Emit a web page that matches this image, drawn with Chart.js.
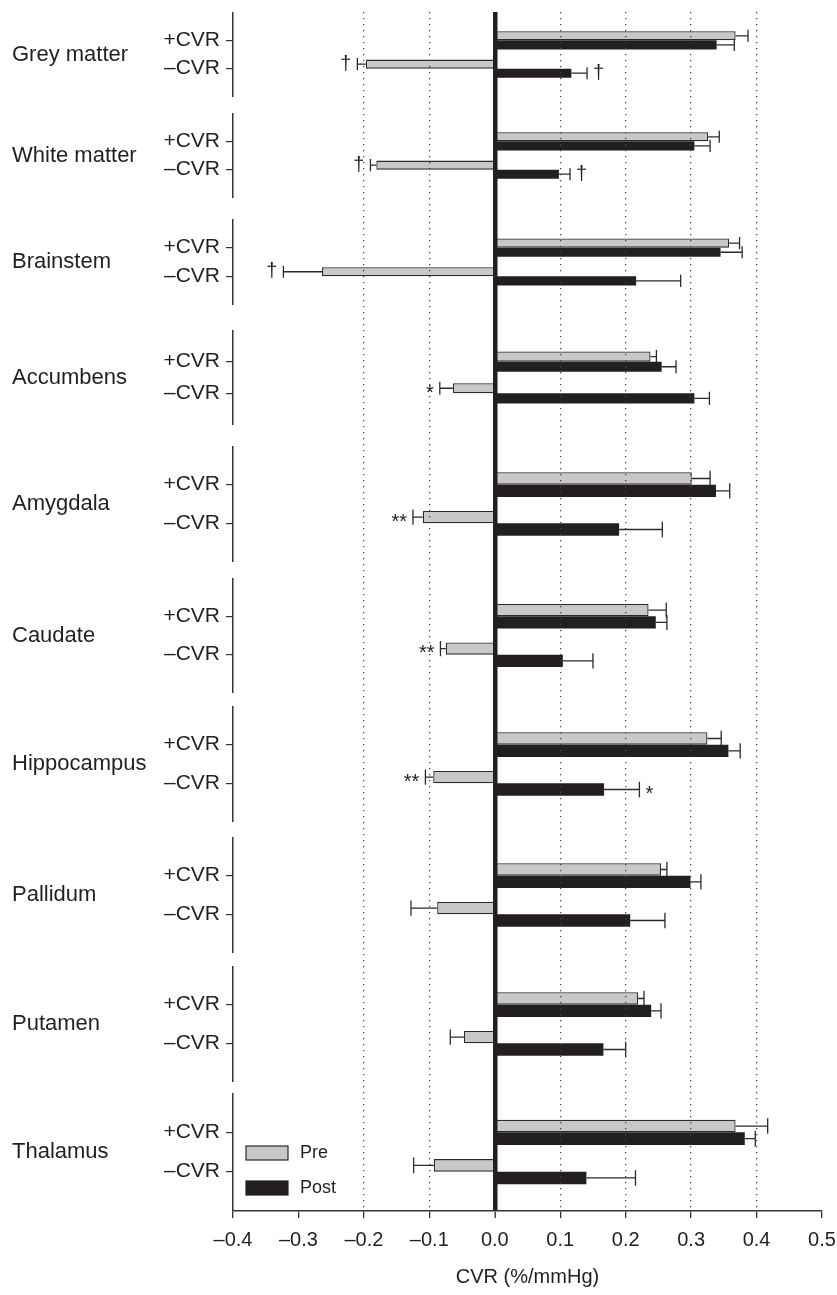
<!DOCTYPE html>
<html>
<head>
<meta charset="utf-8">
<script src="https://cdn.jsdelivr.net/npm/chart.js"></script>
<style>
    html, body { margin: 0; padding: 0; background: #fff; }
    #wrap { position: relative; width: 837px; height: 1295px; }
    #wrap canvas { position: absolute; left: 0; }
</style>
</head>
<body>
<div id="wrap"></div>
<script>
var regiones = ['Grey matter', 'White matter', 'Brainstem', 'Accumbens', 'Amygdala',
    'Caudate', 'Hippocampus', 'Pallidum', 'Putamen', 'Thalamus'];
var filas = ['+CVR', '\u2013CVR'];

// +CVR rows
var prePos = [0.368, 0.326, 0.358, 0.238, 0.301, 0.235, 0.325, 0.254, 0.219, 0.368];
var prePosErr = [0.019, 0.017, 0.016, 0.009, 0.028, 0.027, 0.021, 0.009, 0.009, 0.049];
var postPos = [0.339, 0.305, 0.345, 0.255, 0.338, 0.246, 0.357, 0.299, 0.239, 0.382];
var postPosErr = [0.027, 0.024, 0.033, 0.022, 0.021, 0.017, 0.018, 0.016, 0.015, 0.016];

// -CVR rows
var preNeg = [-0.197, -0.181, -0.264, -0.064, -0.110, -0.075, -0.094, -0.088, -0.047, -0.093];
var preNegErr = [0.013, 0.009, 0.059, 0.020, 0.015, 0.008, 0.012, 0.040, 0.021, 0.031];
var postNeg = [0.117, 0.098, 0.216, 0.305, 0.190, 0.104, 0.167, 0.207, 0.166, 0.140];
var postNegErr = [0.024, 0.017, 0.068, 0.023, 0.066, 0.046, 0.054, 0.053, 0.034, 0.075];

var preNegMarca = ['\u2020', '\u2020', '\u2020', '*', '**', '**', '**', '', '', ''];
var postNegMarca = ['\u2020', '\u2020', '', '', '', '', '*', '', '', ''];

var xMin = -0.4, xMax = 0.5, xPaso = 0.1;
var tituloX = 'CVR (%/mmHg)';

// layout: top and height of each region's axis segment
var cajas = [[12, 85], [113, 85], [219, 86], [330, 95], [446, 116],
    [578, 115], [706, 116], [837, 116], [966, 116], [1093, 118]];

var fuente = '"Liberation Sans", Arial, Helvetica, sans-serif';
var negro = '#231f20';
var gris = '#c8c8c8';

function crearCanvas(top, h, z) {
    var c = document.createElement('canvas');
    c.width = 837;
    c.height = h;
    c.style.top = top + 'px';
    c.style.zIndex = z;
    document.getElementById('wrap').appendChild(c);
    return c;
}

var barrasError = {
    id: 'barrasError',
    afterDatasetsDraw: function (chart) {
        var ctx = chart.ctx;
        var xs = chart.scales.x;
        chart.data.datasets.forEach(function (ds, d) {
            var meta = chart.getDatasetMeta(d);
            meta.data.forEach(function (bar, i) {
                var v = ds.data[i];
                if (v === null || v === undefined) return;
                var s = v < 0 ? -1 : 1;
                var xFin = xs.getPixelForValue(v + s * ds.errores[i]);
                var h = bar.height + 3;
                ctx.save();
                ctx.strokeStyle = '#2b2b2b';
                ctx.lineWidth = 1.3;
                ctx.beginPath();
                ctx.moveTo(bar.x, bar.y);
                ctx.lineTo(xFin, bar.y);
                ctx.moveTo(xFin, bar.y - h / 2);
                ctx.lineTo(xFin, bar.y + h / 2);
                ctx.stroke();
                var m = ds.marcas[i];
                if (m) {
                    ctx.fillStyle = negro;
                    ctx.font = '20px ' + fuente;
                    ctx.textBaseline = 'middle';
                    ctx.textAlign = s < 0 ? 'right' : 'left';
                    var dy = m.charAt(0) === '*' ? 5 : 0;
                    ctx.fillText(m, xFin + s * 6, bar.y + dy);
                }
                ctx.restore();
            });
        });
    }
};

function etiquetaRegion(nombre) {
    return {
        id: 'etiquetaRegion',
        afterDraw: function (chart) {
            var ctx = chart.ctx;
            var ys = chart.scales.y;
            var y = (ys.getPixelForValue(1) + ys.getPixelForValue(2)) / 2;
            ctx.save();
            ctx.fillStyle = negro;
            ctx.font = '22px ' + fuente;
            ctx.textAlign = 'left';
            ctx.textBaseline = 'middle';
            ctx.fillText(nombre, 12, y);
            ctx.restore();
        }
    };
}

var leyenda = {
    id: 'leyenda',
    afterDraw: function (chart) {
        var ctx = chart.ctx;
        var a = chart.chartArea;
        ctx.save();
        chart.data.datasets.forEach(function (ds, d) {
            var cy = a.bottom - 58 + d * 35;
            ctx.fillStyle = ds.backgroundColor;
            ctx.fillRect(a.left + 13, cy - 7, 42, 14);
            ctx.strokeStyle = ds.borderColor;
            ctx.lineWidth = 1.2;
            ctx.strokeRect(a.left + 13, cy - 7, 42, 14);
            ctx.fillStyle = negro;
            ctx.font = '18px ' + fuente;
            ctx.textAlign = 'left';
            ctx.textBaseline = 'middle';
            ctx.fillText(ds.label, a.left + 67, cy);
        });
        ctx.restore();
    }
};

for (let i = 0; i < regiones.length; i++) {
    let canvas = crearCanvas(cajas[i][0], cajas[i][1], 1);
    let plugins = [barrasError, etiquetaRegion(regiones[i])];
    if (i === regiones.length - 1) plugins.push(leyenda);
    new Chart(canvas.getContext('2d'), {
        type: 'bar',
        data: {
            labels: [''].concat(filas, ['']),
            datasets: [{
                label: 'Pre',
                data: [null, prePos[i], preNeg[i], null],
                errores: [null, prePosErr[i], preNegErr[i], null],
                marcas: ['', '', preNegMarca[i], ''],
                backgroundColor: gris,
                borderColor: '#2b2b2b',
                borderWidth: 1.3
            }, {
                label: 'Post',
                data: [null, postPos[i], postNeg[i], null],
                errores: [null, postPosErr[i], postNegErr[i], null],
                marcas: ['', '', postNegMarca[i], ''],
                backgroundColor: negro,
                borderColor: negro,
                borderWidth: 0
            }]
        },
        options: {
            indexAxis: 'y',
            responsive: false,
            animation: false,
            layout: { padding: { left: 0, right: 15, top: 0, bottom: 0 } },
            datasets: { bar: { categoryPercentage: 0.64, barPercentage: 1 } },
            plugins: { legend: { display: false }, tooltip: { enabled: false } },
            scales: {
                x: { type: 'linear', min: xMin, max: xMax, display: false },
                y: {
                    type: 'category',
                    offset: false,
                    grid: {
                        offset: false,
                        drawOnChartArea: false,
                        tickLength: 7,
                        lineWidth: 1.2,
                        color: function (c) {
                            return (c.index === 1 || c.index === 2) ? '#333' : 'rgba(0,0,0,0)';
                        }
                    },
                    border: { color: '#333', width: 1.5 },
                    ticks: {
                        autoSkip: false,
                        padding: 6,
                        color: negro,
                        font: { family: fuente, size: 21 }
                    },
                    afterFit: function (s) {
                        s.width = 233;
                        s.paddingTop = 0;
                        s.paddingBottom = 0;
                    }
                }
            }
        },
        plugins: plugins
    });
}

// axis, grid and zero line on top of the bars
var fondo = crearCanvas(0, 1295, 2);
fondo.style.pointerEvents = 'none';
new Chart(fondo.getContext('2d'), {
    type: 'scatter',
    data: { datasets: [] },
    options: {
        responsive: false,
        animation: false,
        layout: { padding: { left: 233, right: 15, top: 12, bottom: 0 } },
        plugins: { legend: { display: false }, tooltip: { enabled: false } },
        scales: {
            x: {
                type: 'linear',
                min: xMin,
                max: xMax,
                ticks: {
                    stepSize: xPaso,
                    padding: 10,
                    color: negro,
                    font: { family: fuente, size: 20 },
                    callback: function (v) {
                        var t = Math.abs(v).toFixed(1);
                        return v < -1e-9 ? '\u2013' + t : t;
                    }
                },
                grid: {
                    tickLength: 7,
                    tickColor: '#333',
                    tickWidth: 1.3,
                    color: function (c) {
                        if (!c.tick) return '#333';
                        var k = Math.round(c.tick.value * 10);
                        if (k === 0) return negro;
                        if (k === -4 || k === -3 || k === 5) return 'rgba(0,0,0,0)';
                        return '#444';
                    },
                    lineWidth: function (c) {
                        return c.tick && Math.round(c.tick.value * 10) === 0 ? 4.5 : 1.3;
                    }
                },
                border: {
                    display: true,
                    color: '#333',
                    width: 1.5,
                    dash: function (c) {
                        return c.tick && Math.round(c.tick.value * 10) === 0 ? [] : [1.3, 4.7];
                    }
                },
                title: {
                    display: true,
                    text: tituloX,
                    color: negro,
                    font: { family: fuente, size: 20 },
                    padding: { top: 0, bottom: 6 }
                },
                afterFit: function (s) {
                    s.height = 84;
                    s.paddingLeft = 0;
                    s.paddingRight = 0;
                }
            },
            y: { display: false }
        }
    }
});
</script>
</body>
</html>
